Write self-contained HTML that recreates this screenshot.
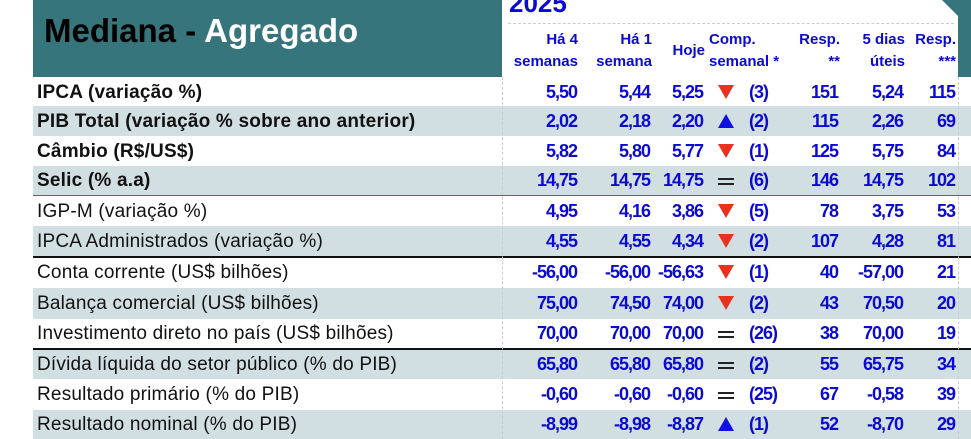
<!DOCTYPE html><html><head><meta charset="utf-8"><style>
body{margin:0;width:971px;height:439px;overflow:hidden;background:#fff;font-family:"Liberation Sans","DejaVu Sans",sans-serif;position:relative}
.a{position:absolute}
.row{position:absolute;left:33px;width:938px}
.sh{background:#d2dfe2}
.lab{position:absolute;left:37px;font-size:19px;color:#111;white-space:nowrap;letter-spacing:0.2px}
.b{font-weight:bold}
.n{position:absolute;font-size:18px;font-weight:bold;color:#0a0ad0;text-align:right;white-space:nowrap;letter-spacing:-1px}
.h{position:absolute;font-size:15px;font-weight:bold;color:#0a0ad0;text-align:right;line-height:22px;white-space:nowrap}
.dn{position:absolute;left:718px;width:0;height:0;border-left:8px solid transparent;border-right:8px solid transparent;border-top:14px solid #e8321e}
.up{position:absolute;left:718px;width:0;height:0;border-left:8px solid transparent;border-right:8px solid transparent;border-bottom:14px solid #1010e0}
.eq{position:absolute;left:718px;width:16px;height:3px;border-top:2px solid #222;border-bottom:2px solid #222}
.ln{position:absolute;left:33px;width:938px;height:2px;background:#111}
</style></head><body>
<div class="a" style="left:33px;top:0;width:469px;height:77px;background:#36757b"></div>
<div class="a" style="left:940px;top:0;width:31px;height:77px;background:#36757b"></div>
<div class="a" style="left:502px;top:0;width:456px;height:77px;background:#fff;clip-path:polygon(0 0,440px 0,456px 16px,456px 77px,0 77px)"></div>
<div class="a" style="left:44px;top:12px;font-size:33px;font-weight:bold;color:#000">Mediana - <span style="color:#fff">Agregado</span></div>
<div class="a" style="left:509px;top:-12px;font-size:26px;font-weight:bold;color:#0a0ad0">2025</div>
<div class="a" style="left:508px;top:23px;width:446px;border-top:1.5px dashed #ccc"></div>
<div class="h" style="left:490px;width:88px;top:29px">Há 4<br>semanas</div>
<div class="h" style="left:570px;width:82px;top:29px">Há 1<br>semana</div>
<div class="h" style="left:660px;width:45px;top:40px">Hoje</div>
<div class="h" style="left:709px;width:80px;top:29px;text-align:left">Comp.<br>semanal *</div>
<div class="h" style="left:780px;width:60px;top:29px">Resp.<br>**</div>
<div class="h" style="left:840px;width:65px;top:29px">5 dias<br>úteis</div>
<div class="h" style="left:900px;width:56px;top:29px">Resp.<br>***</div>

<div class="row sh" style="top:106px;height:30px"></div>
<div class="row sh" style="top:166px;height:29px"></div>
<div class="row sh" style="top:226px;height:30px"></div>
<div class="row sh" style="top:288px;height:31px"></div>
<div class="row sh" style="top:349px;height:30px"></div>
<div class="row sh" style="top:410px;height:29px"></div>
<div class="ln" style="top:195px;height:1px;background:#666"></div>
<div class="ln" style="top:256px"></div>
<div class="ln" style="top:348px"></div>
<div class="a" style="left:502px;top:77px;height:362px;border-left:1.5px dashed #ccc"></div>
<div class="a" style="left:958px;top:77px;height:362px;border-left:1.5px dashed #ccc"></div>

<div id="rows"></div>
<script>
var R=[
["IPCA (variação %)",1,"5,50","5,44","5,25","dn","(3)","151","5,24","115"],
["PIB Total (variação % sobre ano anterior)",1,"2,02","2,18","2,20","up","(2)","115","2,26","69"],
["Câmbio (R$/US$)",1,"5,82","5,80","5,77","dn","(1)","125","5,75","84"],
["Selic (% a.a)",1,"14,75","14,75","14,75","eq","(6)","146","14,75","102"],
["IGP-M (variação %)",0,"4,95","4,16","3,86","dn","(5)","78","3,75","53"],
["IPCA Administrados (variação %)",0,"4,55","4,55","4,34","dn","(2)","107","4,28","81"],
["Conta corrente (US$ bilhões)",0,"-56,00","-56,00","-56,63","dn","(1)","40","-57,00","21"],
["Balança comercial (US$ bilhões)",0,"75,00","74,50","74,00","dn","(2)","43","70,50","20"],
["Investimento direto no país (US$ bilhões)",0,"70,00","70,00","70,00","eq","(26)","38","70,00","19"],
["Dívida líquida do setor público (% do PIB)",0,"65,80","65,80","65,80","eq","(2)","55","65,75","34"],
["Resultado primário (% do PIB)",0,"-0,60","-0,60","-0,60","eq","(25)","67","-0,58","39"],
["Resultado nominal (% do PIB)",0,"-8,99","-8,98","-8,87","up","(1)","52","-8,70","29"]];
var Y=[92,121,151,180,211,241,272,303,333,364,394,424];
var h="";
R.forEach(function(r,i){var c=Y[i];
h+='<div class="lab'+(r[1]?' b':'')+'" style="top:'+(c-10)+'px">'+r[0]+'</div>';
var cols=[[r[2],577],[r[3],650],[r[4],703],[r[7],838],[r[8],903],[r[9],955]];
cols.forEach(function(k){h+='<div class="n" style="left:'+(k[1]-80)+'px;width:80px;top:'+(c-10)+'px">'+k[0]+'</div>';});
h+='<div class="n" style="left:749px;top:'+(c-10)+'px;text-align:left">'+r[6]+'</div>';
if(r[5]=="eq")h+='<div class="eq" style="top:'+(c-2)+'px"></div>';
else h+='<div class="'+r[5]+'" style="top:'+(c-7)+'px"></div>';
});
document.getElementById("rows").innerHTML=h;
</script>
</body></html>
